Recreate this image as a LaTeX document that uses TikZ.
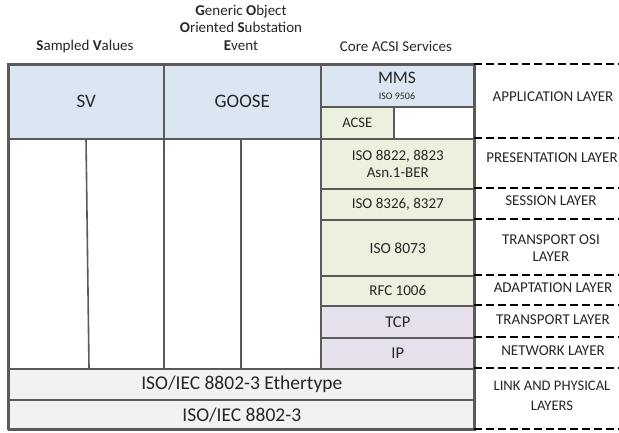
\documentclass[tikz,border=0pt]{standalone}
\usepackage{fontspec}
\setmainfont{Carlito}
\definecolor{bord}{HTML}{5A5A5A}
\definecolor{appblue}{HTML}{DCE6F2}
\definecolor{osigreen}{HTML}{EBF1DE}
\definecolor{iplav}{HTML}{E5E0EC}
\definecolor{linkgray}{HTML}{F2F2F2}
\definecolor{txt}{HTML}{262626}
\tikzset{
  box/.style={draw=bord, line width=1.6pt, inner sep=0pt, anchor=north west, align=center, text=txt},
  lbl/.style={inner sep=0pt, align=center, text=txt},
  layerlbl/.style={lbl, font=\fontsize{15}{18}\selectfont},
  hdr/.style={lbl, font=\fontsize{15}{17.5}\selectfont},
  core/.style={font=\fontsize{15}{17.5}\selectfont},
  dline/.style={draw=black, line width=1.6pt, dash pattern=on 8pt off 4pt},
  sep/.style={draw=bord, line width=1.6pt}
}
\begin{document}
\begin{tikzpicture}[x=1pt,y=-1pt]
\useasboundingbox (0,0) rectangle (619,432);
% headers
\node[hdr] (hsv) at (85,46) {\textbf{S}ampled \textbf{V}alues};
\node[hdr, anchor=north] (hgoose) at (241,4.5) {\textbf{G}eneric \textbf{O}bject\\\textbf{O}riented \textbf{S}ubstation\\\textbf{E}vent};
\node[hdr] (hcore) at (396,46) {Core ACSI Services};
% application row
\node[box, fill=appblue, minimum width=155pt, minimum height=74pt, font=\fontsize{19}{21}\selectfont] (sv) at (8,64) {SV};
\node[box, fill=appblue, minimum width=157pt, minimum height=74pt, font=\fontsize{19}{21}\selectfont] (goose) at (163,64) {GOOSE};
\node[box, fill=appblue, minimum width=154pt, minimum height=42pt] (mms) at (320,64) {};
\node[lbl, font=\fontsize{17.5}{20}\selectfont] (mmst) at (397,78) {MMS};
\node[lbl, font=\fontsize{10}{12}\selectfont] (mmss) at (397,96) {ISO 9506};
\node[box, fill=osigreen, minimum width=73pt, minimum height=32pt, font=\fontsize{14.6}{17}\selectfont] (acse) at (320,106) {ACSE};
\node[box, fill=white, minimum width=81pt, minimum height=32pt] (acsex) at (393,106) {};
% lower white columns
\node[box, fill=white, minimum width=155pt, minimum height=230pt] (svlow) at (8,138) {};
\node[box, fill=white, minimum width=157pt, minimum height=230pt] (gooselow) at (163,138) {};
\coordinate (svsplitt) at (86,138);
\coordinate (svsplitb) at (89,368);
\coordinate (gsplitt) at (241,138);
\coordinate (gsplitb) at (241,368);
\draw[sep] (svsplitt) -- (svsplitb);
\draw[sep] (gsplitt) -- (gsplitb);
% core column
\node[box, core, fill=osigreen, minimum width=154pt, minimum height=50pt] (pres) at (320,138) {ISO 8822, 8823\\Asn.1-BER};
\node[box, core, fill=osigreen, minimum width=154pt, minimum height=31pt] (sess) at (320,188) {ISO 8326, 8327};
\node[box, core, fill=osigreen, minimum width=154pt, minimum height=56pt, font=\fontsize{15.5}{17}\selectfont] (tosi) at (320,219) {ISO 8073};
\node[box, core, fill=osigreen, minimum width=154pt, minimum height=30pt] (adapt) at (320,275) {RFC 1006};
\node[box, fill=iplav, minimum width=154pt, minimum height=32pt, font=\fontsize{16.5}{18}\selectfont] (tcp) at (320,305) {TCP};
\node[box, fill=iplav, minimum width=154pt, minimum height=31pt, font=\fontsize{16.5}{18}\selectfont] (ip) at (320,337) {IP};
% link layers
\node[box, fill=linkgray, minimum width=466pt, minimum height=31pt, font=\fontsize{19.5}{21}\selectfont] (eth) at (8,368) {ISO/IEC 8802-3 Ethertype};
\node[box, fill=linkgray, minimum width=466pt, minimum height=30pt, font=\fontsize{19.5}{21}\selectfont] (phy) at (8,399) {ISO/IEC 8802-3};
% outer frame
\draw[draw=bord, line width=2.6pt] (8,64) rectangle (474,429);
% dashed separators
\foreach \yy/\nm in {64/d0,138/d1,188/d2,219/d3,275/d4,305/d5,337/d6,368/d7,429/d8}{
  \coordinate (\nm a) at (474,\yy);
  \coordinate (\nm b) at (619,\yy);
  \draw[dline] (\nm a) -- (\nm b);
}
% layer labels
\node[layerlbl] (lapp) at (553,97) {APPLICATION LAYER};
\node[layerlbl] (lpres) at (552,158) {PRESENTATION LAYER};
\node[layerlbl] (lsess) at (551,201) {SESSION LAYER};
\node[layerlbl, font=\fontsize{15}{17.5}\selectfont] (ltosi) at (551,248) {TRANSPORT OSI\\LAYER};
\node[layerlbl] (ladapt) at (553,288) {ADAPTATION LAYER};
\node[layerlbl] (ltrans) at (553,320) {TRANSPORT LAYER};
\node[layerlbl] (lnet) at (553,351) {NETWORK LAYER};
\node[layerlbl, font=\fontsize{14.6}{20}\selectfont] (llink) at (552,396) {LINK AND PHYSICAL\\LAYERS};
\end{tikzpicture}
\end{document}
